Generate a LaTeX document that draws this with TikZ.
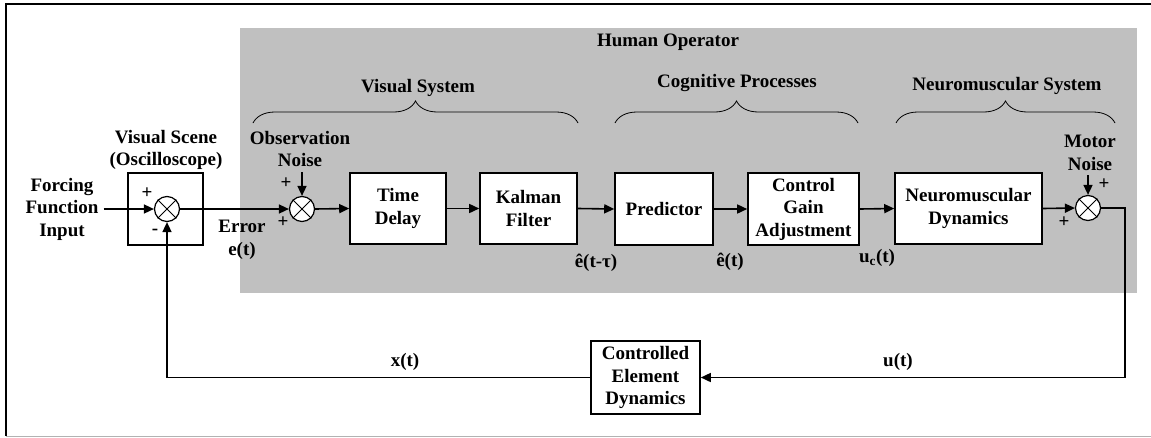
\documentclass[tikz,border=0pt]{standalone}
\usepackage{fontspec}
\setmainfont{Liberation Serif}
\usetikzlibrary{arrows.meta,decorations.pathreplacing}
\definecolor{opgray}{RGB}{192,192,192}
\begin{document}
\begin{tikzpicture}[x=1pt,y=-1pt,
  every node/.style={font=\fontsize{19}{22.5}\selectfont\bfseries, align=center, inner sep=0pt},
  blk/.style={draw, fill=white, line width=1.6pt},
  sumj/.style={draw, fill=white, circle, minimum size=25pt, line width=1.2pt},
  arr/.style={line width=1.6pt, -{Triangle[length=10pt,width=9pt]}},
  ln/.style={line width=1.6pt},
  br/.style={decorate, decoration={brace, amplitude=22pt, aspect=0.5}, line width=0.8pt}]
\useasboundingbox (0,0) rectangle (1151,437);
% frame
\draw[line width=1.5pt] (1151,4) -- (6,4) -- (6,436);
\draw[gray!60, line width=1pt] (6,436) -- (1151,436);
% human operator region
\fill[opgray] (240,28) rectangle (1137,293);
\node (ho) at (668,42) {Human Operator};
% braces
\node (vs) at (418,88) {Visual System};
\draw[br] (253,123) -- (578,123);
\node (cp) at (737,83) {Cognitive Processes};
\draw[br] (615,123) -- (858,123);
\node (ns) at (1007,86) {Neuromuscular System};
\draw[br] (896,123) -- (1115,123);
% visual scene
\node (vscene) at (166,150) {Visual Scene\\(Oscilloscope)};
\node[blk, minimum width=75pt, minimum height=72pt] (vsbox) at (165.5,209) {};
\node[sumj] (s1) at (167,209) {};
\node (ffi) at (62,209) {Forcing\\Function\\Input};
\node (p1) at (147,193) {+};
\node (m1) at (155,232) {-};
\node (err) at (242,240) {Error\\e(t)};
% observation noise
\node (obs) at (300,149) {Observation\\Noise};
\node[sumj] (s2) at (302,209) {};
\coordinate (n2) at (302,172);
\node (p2a) at (286,183) {+};
\node (p2b) at (283,222) {+};
% blocks
\node[blk, minimum width=96pt, minimum height=71pt] (td) at (398,208.5) {Time\\Delay};
\node[blk, minimum width=97pt, minimum height=71pt] (kf) at (528.5,208.5) {Kalman\\Filter};
\node[blk, minimum width=98pt, minimum height=72pt] (pr) at (664,209) {Predictor};
\node[blk, minimum width=111pt, minimum height=72pt] (cg) at (803.5,209) {Control\\Gain\\Adjustment};
\node[blk, minimum width=147pt, minimum height=71pt] (nd) at (968.5,208.5) {Neuromuscular\\Dynamics};
\node (et) at (596,263) {ê(t-τ)};
\node (eh) at (730,262) {ê(t)};
\node (uc) at (877,258) {u\textsubscript{c}(t)};
% motor noise
\node (mn) at (1090,153) {Motor\\Noise};
\node[sumj] (s3) at (1088,208) {};
\coordinate (n3) at (1088,175);
\node (p3a) at (1104,184) {+};
\node (p3b) at (1064,222) {+};
% controlled element
\node[blk, minimum width=109pt, minimum height=73pt] (ced) at (645.5,377.5) {Controlled\\Element\\Dynamics};
\node (xt) at (405,362) {x(t)};
\node (ut) at (898,362) {u(t)};
\coordinate (c1) at (1125,208);
% crosses in summing junctions
\foreach \s in {s1,s2,s3}
  \draw[line width=1pt] (\s.north west) -- (\s.south east) (\s.north east) -- (\s.south west);
% connectors
\draw[arr] ([xshift=5pt]ffi.east) -- (s1.west);
\draw[arr] (s1.east) -- (s2.west);
\draw[arr] (n2) -- (s2.north);
\draw[arr] (s2.east) -- (td.west);
\draw[arr] (td.east) -- (kf.west);
\draw[arr] (kf.east) -- (pr.west);
\draw[arr] (pr.east) -- (cg.west);
\draw[arr] (cg.east) -- (nd.west);
\draw[arr] (nd.east) -- (s3.west);
\draw[arr] (n3) -- (s3.north);
\draw[arr] (s3.east) -- (c1) |- (ced.east);
\draw[arr] (ced.west) -| (s1.south);
\end{tikzpicture}
\end{document}
